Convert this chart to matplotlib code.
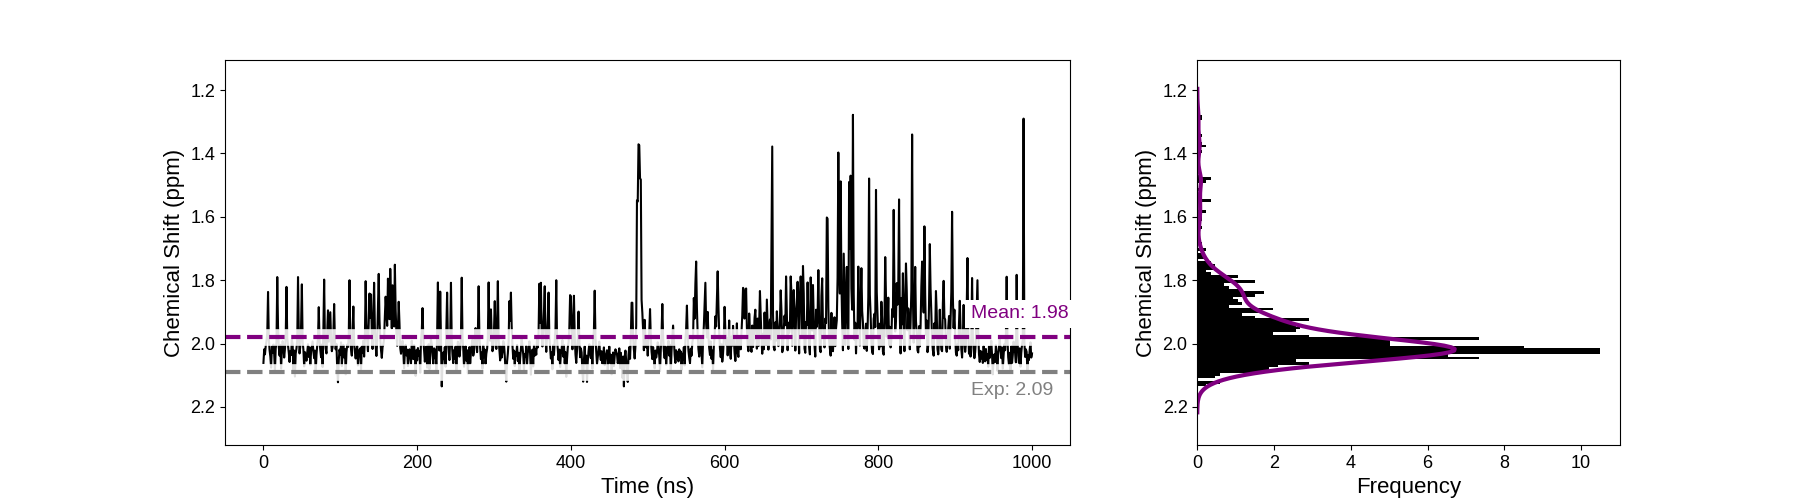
import matplotlib
matplotlib.use('Agg')
import matplotlib.pyplot as plt
import numpy as np
import seaborn as sns

plt.rcParams['font.family'] = ['Liberation Sans', 'DejaVu Sans']

# chemical shift trace, one frame per ns (0 - 1000 ns)
shift_ppm = [
    2.061, 2.018, 2.034, 2.007, 1.992, 1.968, 1.837, 1.985, 2.021, 2.041, 2.076, 2.009, 2.028, 2.003, 2.033, 2.087, 2.015, 1.996, 1.790, 1.947,
    2.011, 2.038, 2.004, 2.079, 2.021, 1.992, 2.009, 2.044, 2.017, 1.978, 1.821, 1.983, 2.006, 2.029, 2.058, 2.024, 2.036, 1.987, 2.002, 2.085,
    2.022, 2.104, 2.031, 2.015, 1.988, 1.790, 1.964, 2.031, 2.007, 1.941, 1.813, 1.993, 2.019, 2.072, 2.027, 2.038, 2.054, 2.026, 2.002, 2.042,
    2.012, 2.067, 2.025, 2.008, 1.993, 2.025, 2.046, 2.022, 2.091, 2.036, 2.005, 1.982, 1.885, 1.991, 2.021, 2.043, 2.003, 2.074, 1.957, 1.798,
    1.985, 2.016, 2.031, 1.962, 1.895, 1.994, 1.948, 1.901, 1.986, 2.024, 2.011, 1.968, 1.875, 1.992, 2.018, 2.001, 2.081, 2.122, 2.053, 2.019,
    2.035, 1.996, 2.071, 2.027, 2.004, 2.044, 2.017, 2.097, 2.029, 2.003, 2.011, 1.978, 1.800, 1.989, 2.018, 2.038, 1.956, 1.883, 1.996, 2.026,
    2.047, 2.022, 2.008, 2.069, 2.031, 2.019, 2.015, 2.082, 2.009, 2.028, 1.991, 2.041, 1.983, 1.803, 1.938, 1.987, 2.024, 1.931, 1.842, 1.918,
    1.845, 1.972, 2.017, 1.924, 1.808, 1.951, 2.006, 2.039, 1.992, 1.887, 1.780, 1.926, 1.988, 2.021, 2.045, 2.011, 2.003, 1.985, 1.913, 1.852,
    1.897, 1.944, 1.795, 1.872, 1.923, 1.764, 1.859, 1.952, 1.816, 1.903, 1.946, 1.751, 1.891, 1.967, 2.007, 1.948, 1.868, 1.935, 2.014, 2.032,
    2.009, 1.991, 2.026, 2.078, 2.029, 2.004, 2.037, 2.019, 2.071, 2.045, 2.018, 2.027, 2.063, 1.991, 2.036, 2.049, 2.005, 2.034, 2.102, 2.021,
    2.053, 2.014, 2.039, 2.023, 2.092, 1.989, 1.963, 1.888, 1.982, 2.018, 2.057, 2.031, 2.009, 2.076, 2.044, 2.002, 2.081, 2.025, 1.986, 2.003,
    2.037, 2.064, 2.015, 2.046, 2.019, 2.089, 1.971, 1.807, 1.988, 2.022, 1.836, 1.994, 2.135, 2.061, 2.028, 2.049, 2.011, 2.073, 1.954, 1.839,
    1.987, 2.026, 2.052, 1.983, 1.808, 1.991, 2.035, 2.062, 2.021, 2.047, 2.009, 2.085, 2.029, 1.994, 2.003, 2.041, 2.018, 1.975, 1.792, 1.982,
    2.016, 2.073, 2.032, 2.008, 2.054, 2.021, 2.094, 2.045, 2.011, 2.063, 2.029, 2.004, 1.988, 2.038, 2.024, 1.982, 1.951, 1.996, 2.027, 1.967,
    1.819, 1.978, 2.012, 2.049, 2.028, 2.079, 2.006, 2.043, 2.019, 2.064, 2.032, 2.017, 1.982, 1.807, 1.965, 1.991, 1.892, 1.973, 2.024, 2.011,
    1.958, 1.866, 1.979, 2.017, 1.947, 1.803, 1.986, 2.021, 2.053, 2.008, 2.044, 2.027, 1.992, 2.001, 2.039, 2.086, 2.120, 2.057, 2.031, 1.993,
    1.866, 1.928, 1.839, 1.947, 2.006, 2.048, 2.022, 2.071, 2.026, 2.037, 2.004, 2.055, 2.029, 2.091, 2.046, 2.018, 1.983, 2.009, 2.034, 2.082,
    2.033, 2.041, 2.007, 2.064, 2.028, 2.021, 1.993, 2.033, 2.098, 2.045, 2.019, 2.072, 2.006, 2.038, 2.017, 2.035, 1.984, 2.012, 1.963, 1.811,
    1.935, 1.808, 1.972, 2.009, 1.958, 1.897, 1.819, 1.982, 2.026, 1.974, 1.922, 1.839, 1.978, 2.013, 2.047, 2.028, 2.081, 2.005, 2.036, 1.991,
    1.953, 1.800, 1.985, 2.021, 2.052, 2.019, 2.074, 2.033, 2.016, 1.989, 2.041, 2.004, 2.063, 2.027, 2.105, 2.049, 2.012, 1.995, 1.951, 1.847,
    1.851, 1.958, 2.018, 1.932, 1.849, 1.976, 2.034, 2.061, 2.022, 1.981, 1.899, 1.987, 2.043, 2.015, 2.028, 2.091, 2.120, 2.052, 2.009, 2.063,
    2.038, 2.121, 2.057, 2.024, 2.002, 2.031, 2.046, 2.008, 2.079, 1.992, 1.958, 1.833, 1.981, 2.026, 2.064, 2.043, 2.017, 1.994, 2.035, 2.052,
    2.024, 2.063, 2.047, 2.012, 2.068, 2.039, 2.033, 2.021, 2.084, 2.044, 2.009, 2.061, 2.035, 2.097, 2.052, 2.028, 2.071, 2.041, 2.018, 2.026,
    2.033, 2.062, 2.047, 2.015, 2.077, 2.029, 2.056, 2.108, 2.041, 2.135, 2.043, 2.022, 2.051, 2.084, 2.121, 2.036, 2.011, 2.048, 1.978, 1.871,
    1.871, 1.982, 2.019, 2.047, 2.008, 1.944, 1.548, 1.552, 1.371, 1.374, 1.479, 1.482, 1.862, 1.903, 1.958, 2.021, 1.925, 1.986, 2.012, 1.991,
    2.038, 1.987, 1.963, 1.891, 1.982, 2.026, 2.049, 2.011, 2.037, 2.078, 2.022, 2.044, 2.029, 1.996, 2.006, 2.041, 2.087, 2.019, 1.967, 1.875,
    1.978, 2.024, 2.046, 2.009, 2.067, 2.031, 2.015, 1.991, 2.038, 2.004, 2.089, 2.022, 1.985, 1.943, 1.989, 2.035, 2.061, 2.021, 2.048, 2.027,
    2.056, 2.018, 2.041, 2.025, 2.083, 2.032, 2.049, 2.011, 2.069, 1.991, 1.952, 1.880, 1.976, 2.023, 2.045, 2.062, 2.016, 2.038, 1.997, 1.982,
    1.856, 1.921, 1.812, 1.741, 1.887, 1.973, 2.018, 2.041, 2.009, 1.984, 2.027, 2.075, 1.988, 1.945, 1.874, 1.808, 1.937, 1.981, 1.900, 1.978,
    2.014, 2.036, 1.993, 2.048, 2.022, 2.081, 2.008, 1.977, 1.914, 1.946, 1.862, 1.772, 1.883, 1.969, 2.016, 2.043, 2.002, 2.057, 2.031, 1.986,
    1.884, 1.958, 2.003, 1.983, 2.037, 1.991, 1.927, 2.021, 2.048, 1.978, 2.006, 1.944, 1.989, 2.029, 2.055, 2.017, 1.936, 2.027, 2.042, 1.982,
    1.992, 2.018, 1.967, 1.911, 1.824, 1.829, 1.921, 1.854, 1.826, 1.948, 2.003, 2.024, 1.905, 1.961, 2.008, 2.026, 1.943, 2.011, 1.982, 1.918,
    1.893, 1.957, 2.016, 1.921, 2.008, 1.938, 1.834, 1.912, 1.986, 2.032, 1.969, 2.018, 1.902, 1.974, 2.004, 1.861, 1.936, 2.019, 1.947, 1.924,
    1.987, 1.703, 1.378, 1.906, 2.012, 2.021, 1.933, 1.991, 1.898, 1.955, 2.008, 1.974, 1.928, 1.832, 1.897, 2.027, 2.017, 1.953, 1.912, 1.942,
    1.788, 1.912, 2.021, 1.934, 1.966, 1.951, 1.788, 1.842, 2.007, 1.924, 1.831, 1.894, 2.022, 1.917, 1.873, 1.805, 1.943, 2.031, 1.848, 1.788,
    1.838, 1.983, 1.755, 1.842, 2.016, 2.029, 1.932, 1.941, 1.807, 1.918, 2.008, 2.034, 1.791, 1.852, 1.959, 1.815, 1.927, 2.006, 2.041, 1.893,
    1.947, 1.913, 1.768, 1.931, 2.018, 2.027, 1.849, 1.794, 1.946, 1.982, 2.012, 1.921, 1.935, 1.602, 1.606, 1.884, 1.992, 2.015, 2.038, 1.903,
    2.011, 2.024, 1.975, 1.917, 2.008, 1.952, 1.926, 1.792, 1.397, 1.753, 1.842, 1.488, 1.806, 1.938, 2.021, 1.716, 1.857, 2.003, 1.836, 1.758,
    1.921, 2.017, 1.490, 1.701, 1.470, 1.826, 1.893, 1.278, 1.842, 1.988, 1.934, 2.031, 1.962, 1.943, 1.757, 1.917, 2.006, 1.865, 1.762, 1.897,
    1.934, 2.008, 2.016, 1.964, 1.937, 2.023, 1.961, 1.853, 1.479, 1.846, 1.909, 1.993, 2.027, 2.033, 1.922, 1.906, 1.948, 1.515, 1.838, 1.912,
    1.981, 2.018, 1.937, 2.009, 1.868, 1.924, 2.026, 2.035, 1.931, 1.727, 1.846, 1.978, 1.942, 1.855, 2.003, 1.947, 2.012, 1.986, 1.891, 1.916,
    1.578, 1.834, 1.962, 1.926, 1.809, 1.877, 1.812, 1.545, 1.914, 2.031, 1.856, 1.939, 1.778, 1.957, 2.024, 1.857, 1.747, 1.832, 1.958, 1.889,
    1.926, 2.018, 1.934, 1.831, 1.340, 1.852, 1.997, 1.921, 1.758, 1.929, 1.968, 2.022, 2.028, 1.945, 2.009, 1.944, 1.818, 1.741, 1.836, 1.902,
    1.630, 1.846, 1.973, 1.927, 2.027, 2.005, 1.876, 1.686, 1.828, 1.904, 1.992, 2.021, 2.038, 1.936, 1.972, 1.834, 1.903, 2.017, 2.034, 1.986,
    1.893, 1.982, 2.019, 2.024, 1.873, 1.802, 1.918, 1.924, 2.008, 2.026, 1.987, 1.943, 1.913, 2.016, 1.932, 1.837, 1.584, 1.852, 1.951, 1.893,
    1.976, 2.029, 2.038, 2.002, 2.021, 1.935, 1.865, 1.951, 2.017, 2.044, 1.977, 1.878, 1.989, 2.026, 2.001, 1.893, 1.730, 1.956, 2.032, 2.009,
    2.041, 1.982, 1.793, 1.975, 2.018, 2.046, 2.027, 1.988, 1.894, 1.800, 1.962, 2.034, 2.058, 2.023, 2.047, 2.026, 2.061, 2.008, 2.039, 2.056,
    2.017, 2.052, 2.034, 2.073, 2.009, 2.045, 2.028, 1.991, 2.037, 2.097, 2.049, 2.034, 2.058, 2.005, 2.041, 2.086, 2.031, 2.011, 1.985, 2.019,
    2.046, 2.012, 2.079, 2.037, 2.002, 2.021, 1.978, 1.789, 1.981, 2.043, 2.066, 2.029, 2.092, 2.008, 2.061, 2.035, 1.994, 2.024, 2.027, 2.059,
    1.783, 1.982, 2.038, 2.061, 2.015, 2.073, 2.029, 2.004, 1.987, 1.290, 1.992, 2.042, 2.018, 2.026, 2.084, 2.036, 2.052, 2.019, 1.996, 2.044,
    2.031,
]
time_ns = np.arange(len(shift_ppm))

mean_shift = 1.98
exp_shift = 2.09

fig, (ax1, ax2) = plt.subplots(1, 2, figsize=(18, 5), gridspec_kw={'width_ratios': [2, 1]})

# time series
ax1.plot(time_ns, shift_ppm, color='black', lw=1.5)
for y, c in [(mean_shift, 'purple'), (exp_shift, 'gray')]:
    ax1.axhline(y, color='white', lw=12, alpha=0.88)
    ax1.axhline(y, color=c, ls='--', lw=3)
ax1.text(920, 1.906, f'Mean: {mean_shift:.2f}', color='purple', fontsize=14, va='center',
         bbox=dict(facecolor='white', edgecolor='none'))
ax1.text(920, 2.148, f'Exp: {exp_shift:.2f}', color='gray', fontsize=14, va='center',
         bbox=dict(facecolor='white', edgecolor='none'))
ax1.set_xlabel('Time (ns)', fontsize=16)
ax1.set_ylabel('Chemical Shift (ppm)', fontsize=16)
ax1.set_ylim(2.32, 1.105)
ax1.tick_params(labelsize=13)

# distribution
ax2.hist(shift_ppm, bins=100, density=True, orientation='horizontal', color='black')
sns.kdeplot(y=shift_ppm, ax=ax2, color='purple', lw=3)
ax2.set_xlabel('Frequency', fontsize=16)
ax2.set_ylabel('Chemical Shift (ppm)', fontsize=16)
ax2.set_ylim(2.32, 1.105)
ax2.tick_params(labelsize=13)

fig.savefig('out.png', dpi=100)
